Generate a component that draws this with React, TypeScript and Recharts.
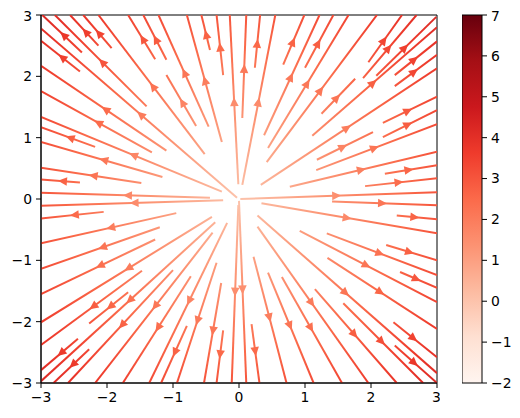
// Streamplot of a radial field: straight streamlines fanning out from the origin,
// colored by distance (Reds), plus a colorbar on the right.

import {
  ComposedChart,
  Line,
  Scatter,
  XAxis,
  YAxis,
  ReferenceArea,
  BarChart,
  Bar,
} from 'recharts';

// Each streamline: [xInner, yInner, xOuter, yOuter]; flow runs outward.
const UPPER_LEFT = [
  [-2.38, 2.39, -2.98, 3.0],
  [-1.4, 1.51, -2.79, 3.0],
  [-2.13, 2.5, -2.56, 3.0],
  [-1.93, 2.46, -2.36, 3.0],
  [-0.52, 0.73, -2.13, 3.0],
  [-1.27, 2.28, -1.68, 3.0],
  [-1.1, 2.27, -1.45, 3.0],
  [-0.46, 1.18, -1.22, 3.0],
  [-0.26, 0.93, -0.79, 3.0],
  [-0.44, 2.43, -0.57, 3.0],
  [-0.24, 2.02, -0.34, 3.0],
  [-0.01, 0.24, -0.14, 3.0],
  [-0.65, 1.19, -1.1, 2.02],
  [-0.03, 0.02, -3.0, 2.78],
  [-2.41, 2.08, -3.0, 2.58],
  [-1.1, 0.79, -3.0, 2.17],
  [-1.32, 0.76, -3.0, 1.76],
  [-0.26, 0.12, -3.0, 1.34],
  [-2.18, 0.85, -3.0, 1.17],
  [-1.16, 0.36, -3.0, 0.93],
  [-1.48, 0.26, -3.0, 0.51],
  [-2.41, 0.27, -3.0, 0.32],
  [-0.44, 0.02, -3.0, 0.1],
];

const LOWER_LEFT = [
  [-0.24, -0.02, -3.0, -0.11],
  [-2.05, -0.21, -3.0, -0.32],
  [-0.95, -0.23, -3.0, -0.72],
  [-1.2, -0.46, -3.0, -1.14],
  [-1.27, -0.66, -3.0, -1.55],
  [-0.41, -0.29, -3.0, -2.01],
  [-1.47, -1.17, -3.0, -2.38],
  [-1.68, -1.52, -2.27, -2.03],
  [-2.44, -2.28, -3.0, -2.79],
  [-0.36, -0.38, -3.0, -2.97],
  [-2.27, -2.45, -2.81, -3.0],
  [-1.0, -1.16, -2.59, -3.0],
  [-0.4, -0.55, -2.18, -3.0],
  [-0.73, -1.26, -1.76, -3.0],
  [-0.18, -0.39, -1.36, -3.0],
  [-0.79, -2.07, -1.18, -3.0],
  [-0.34, -1.04, -0.94, -3.0],
  [-0.27, -1.37, -0.53, -3.0],
  [-0.24, -2.14, -0.34, -3.0],
  [-0.01, -0.1, -0.11, -3.0],
  [0.0, -0.03, 0.11, -3.0],
];

const LOWER_RIGHT = [
  [0.02, 0.0, 3.0, 0.11],
  [1.41, -0.04, 3.0, -0.1],
  [0.34, -0.07, 3.0, -0.56],
  [2.39, -0.27, 3.0, -0.33],
  [1.33, -0.56, 3.0, -1.24],
  [2.23, -0.75, 3.0, -1.0],
  [0.92, -0.52, 3.0, -1.68],
  [2.44, -1.19, 3.0, -1.45],
  [1.34, -0.96, 3.0, -2.12],
  [0.28, -0.27, 3.0, -2.84],
  [2.34, -2.01, 3.0, -2.58],
  [2.36, -2.39, 3.0, -3.0],
  [1.58, -1.7, 2.79, -3.0],
  [1.15, -1.47, 2.39, -3.0],
  [0.28, -0.45, 1.96, -3.0],
  [0.65, -1.27, 1.56, -3.0],
  [0.44, -1.2, 1.13, -3.0],
  [0.22, -0.94, 0.72, -3.0],
  [0.19, -2.04, 0.31, -3.0],
];

const UPPER_RIGHT = [
  [0.05, 1.32, 0.11, 3.0],
  [0.24, 2.14, 0.32, 3.0],
  [0.05, 0.23, 0.55, 3.0],
  [0.67, 2.19, 0.99, 3.0],
  [0.38, 1.04, 1.22, 3.0],
  [1.0, 2.14, 1.43, 3.0],
  [0.44, 0.83, 1.66, 3.0],
  [0.42, 0.6, 2.09, 3.0],
  [1.96, 2.23, 2.47, 3.0],
  [1.88, 1.97, 2.69, 3.0],
  [2.08, 2.01, 2.99, 2.97],
  [1.25, 1.39, 1.76, 1.96],
  [1.11, 1.03, 3.0, 2.8],
  [2.36, 2.02, 3.0, 2.57],
  [2.36, 1.84, 3.0, 2.35],
  [0.33, 0.23, 3.0, 2.13],
  [2.18, 1.24, 3.0, 1.67],
  [2.18, 1.01, 3.0, 1.45],
  [1.18, 0.64, 2.03, 1.09],
  [1.17, 0.47, 3.0, 1.22],
  [0.77, 0.2, 3.0, 0.77],
  [2.21, 0.41, 3.0, 0.55],
  [1.91, 0.21, 3.0, 0.34],
];

const AXIS_TICKS = [-3, -2, -1, 0, 1, 2, 3];
const CBAR_TICKS = [-2, -1, 0, 1, 2, 3, 4, 5, 6, 7];
const CBAR_RANGE = [-2, 7];

// matplotlib "Reds" anchors
const REDS = ['#fff5f0', '#fee0d2', '#fcbba1', '#fc9272', '#fb6a4a', '#ef3b2c', '#cb181d', '#a50f15', '#67000d'];

function reds(t: number) {
  const u = Math.max(0, Math.min(1, t)) * (REDS.length - 1);
  const i = Math.min(REDS.length - 2, Math.floor(u));
  const f = u - i;
  const a = parseInt(REDS[i].slice(1), 16);
  const b = parseInt(REDS[i + 1].slice(1), 16);
  const ch = (s: number) => Math.round(((a >> s) & 255) * (1 - f) + ((b >> s) & 255) * f);
  return `rgb(${ch(16)},${ch(8)},${ch(0)})`;
}

// layout: plot area lands at 41..437 x 15..383 on the page
const W = 432;
const H = 400;
const MARGIN = { top: 7, right: 3, bottom: 0, left: 0 };
const Y_AXIS_W = 33;
const X_AXIS_H = 25;
const PLOT_W = W - MARGIN.left - MARGIN.right - Y_AXIS_W;
const PLOT_H = H - MARGIN.top - MARGIN.bottom - X_AXIS_H;
const SX = PLOT_W / 6;
const SY = PLOT_H / 6;
const OX = MARGIN.left + Y_AXIS_W + PLOT_W / 2;
const OY = MARGIN.top + PLOT_H / 2;
const R_MAX = 4.5;

const tickStyle = { fontFamily: 'DejaVu Sans', fontSize: 13.9, fill: '#000' };
const fmt = (v: number) => String(v).replace('-', '\u2212');

const STREAMS = [...UPPER_LEFT, ...LOWER_LEFT, ...LOWER_RIGHT, ...UPPER_RIGHT];

// arrowheads sit halfway along each streamline, as streamplot does
const arrows = STREAMS.map(([x0, y0, x1, y1]) => ({
  x: (x0 + x1) / 2,
  y: (y0 + y1) / 2,
  dx: x1 - x0,
  dy: y1 - y0,
}));

function ArrowHead(props: any) {
  const { cx, cy, payload } = props;
  if (cx == null || cy == null) return null;
  const ang = Math.atan2(-payload.dy * SY, payload.dx * SX);
  const c = Math.cos(ang);
  const s = Math.sin(ang);
  const tx = cx + c * 2.5;
  const ty = cy + s * 2.5;
  const bx = cx - c * 6.5;
  const by = cy - s * 6.5;
  const hw = 4.3;
  const pts = `${tx},${ty} ${bx - s * hw},${by + c * hw} ${bx + s * hw},${by - c * hw}`;
  return <polygon points={pts} fill="url(#flowColor)" />;
}

const gradStops = Array.from({ length: 19 }, (_, k) => {
  const r = (k / 18) * R_MAX;
  return { offset: r / R_MAX, color: reds((r + 2) / 9) };
});

export default function App() {
  return (
    <div style={{ position: 'relative', width: 512, height: 402 }}>
      <ComposedChart width={W} height={H} margin={MARGIN}>
        <defs>
          <radialGradient
            id="flowColor"
            gradientUnits="userSpaceOnUse"
            cx={OX}
            cy={OY}
            r={R_MAX * SX}
            gradientTransform={`translate(${OX} ${OY}) scale(1 ${SY / SX}) translate(${-OX} ${-OY})`}
          >
            {gradStops.map((g, i) => (
              <stop key={i} offset={g.offset} stopColor={g.color} />
            ))}
          </radialGradient>
        </defs>
        <XAxis
          type="number"
          dataKey="x"
          domain={[-3, 3]}
          ticks={AXIS_TICKS}
          allowDataOverflow
          height={X_AXIS_H}
          tickSize={5}
          tickMargin={4}
          tickFormatter={fmt}
          tick={tickStyle}
          stroke="#000"
        />
        <YAxis
          type="number"
          dataKey="y"
          domain={[-3, 3]}
          ticks={AXIS_TICKS}
          allowDataOverflow
          width={Y_AXIS_W}
          tickSize={5}
          tickMargin={4}
          tickFormatter={fmt}
          tick={tickStyle}
          stroke="#000"
        />
        {STREAMS.map(([x0, y0, x1, y1], i) => (
          <Line
            key={i}
            data={[
              { x: x0, y: y0 },
              { x: x1, y: y1 },
            ]}
            dataKey="y"
            stroke="url(#flowColor)"
            strokeWidth={2}
            dot={false}
            activeDot={false}
            isAnimationActive={false}
          />
        ))}
        <Scatter data={arrows} dataKey="y" shape={ArrowHead} isAnimationActive={false} />
        <ReferenceArea x1={-3} x2={3} y1={-3} y2={3} fill="none" stroke="#000" strokeWidth={1} strokeOpacity={1} />
      </ComposedChart>

      <div style={{ position: 'absolute', left: 454, top: 0 }}>
        <BarChart
          width={65}
          height={H}
          data={[{ k: 'c', v: CBAR_RANGE }]}
          margin={{ top: 7, right: 0, bottom: 25, left: 0 }}
          barCategoryGap={0}
        >
          <defs>
            <linearGradient id="cbar" x1="0" y1="0" x2="0" y2="1">
              {REDS.slice()
                .reverse()
                .map((c, i) => (
                  <stop key={i} offset={i / (REDS.length - 1)} stopColor={c} />
                ))}
            </linearGradient>
          </defs>
          <XAxis dataKey="k" hide />
          <YAxis
            orientation="right"
            type="number"
            domain={CBAR_RANGE}
            ticks={CBAR_TICKS}
            width={45}
            axisLine={false}
            tickSize={5}
            tickMargin={4}
            tickFormatter={fmt}
            tick={tickStyle}
            stroke="#000"
          />
          <Bar dataKey="v" fill="url(#cbar)" stroke="#000" strokeWidth={1} isAnimationActive={false} />
        </BarChart>
      </div>
    </div>
  );
}
